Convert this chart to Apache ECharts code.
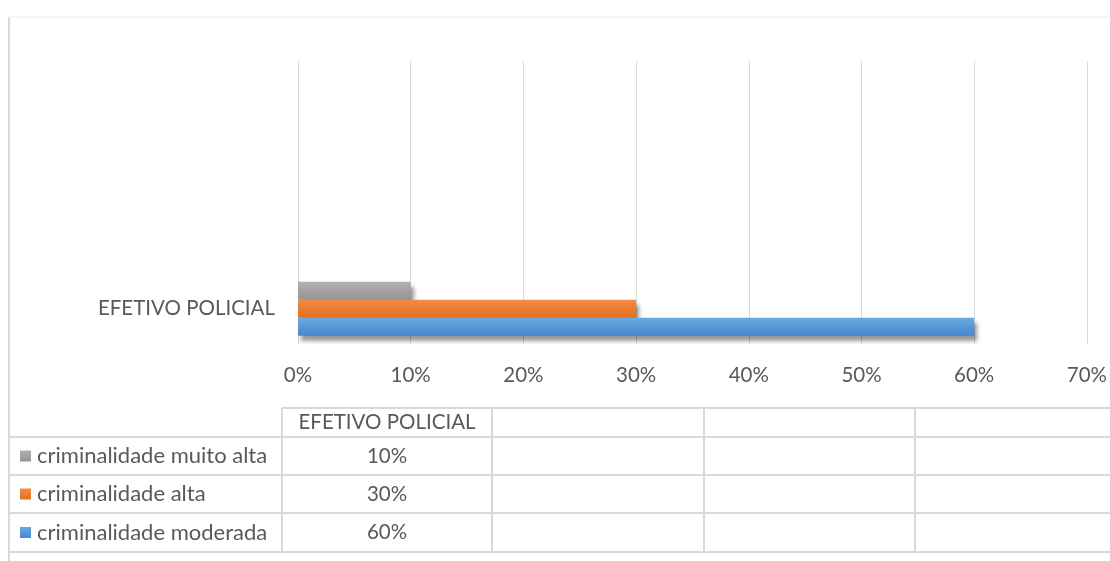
<!DOCTYPE html>
<html>
<head>
<meta charset="utf-8">
<script src="https://cdn.jsdelivr.net/npm/echarts@6/dist/echarts.min.js"></script>
<style>
  html, body { margin: 0; padding: 0; background: #fff; }
  #chart { width: 1110px; height: 561px; }
</style>
</head>
<body>
<div id="chart"></div>
<script>
// categorias (só a primeira tem nome, as outras ficam vazias)
const categories = ['EFETIVO POLICIAL', '', '', '']
// séries (ordem de cima para baixo nas barras)
const seriesNames = ['criminalidade muito alta', 'criminalidade alta', 'criminalidade moderada']
const muitoAlta = [0.1, null, null, null]
const alta = [0.3, null, null, null]
const moderada = [0.6, null, null, null]
// ticks do eixo
const axisTicks = [0, 0.1, 0.2, 0.3, 0.4, 0.5, 0.6, 0.7]

const seriesData = [muitoAlta, alta, moderada]
const colors = [
  ['#b1b1b1', '#959595'],
  ['#f38c47', '#e2701f'],
  ['#6ca9e0', '#4687cf']
]

const FONT = 'Lato'
const TXT = '#595959'
const LINE = '#d9d9d9'
const FS = 20.5

const pct = (v) => (v == null ? '' : Math.round(v * 100) + '%')

// tabela de dados embaixo do gráfico
const colX = [9, 282, 492, 704, 915, 1110]
const rowY = [408, 437, 475, 513, 552]
const graphic = []

// moldura
graphic.push({ type: 'line', shape: { x1: 9, y1: 17, x2: 1110, y2: 17 }, style: { stroke: '#ececec', lineWidth: 1 } })
graphic.push({ type: 'line', shape: { x1: 9, y1: 17, x2: 9, y2: 561 }, style: { stroke: LINE, lineWidth: 2 } })

// linhas horizontais
graphic.push({ type: 'line', shape: { x1: colX[1], y1: rowY[0], x2: 1110, y2: rowY[0] }, style: { stroke: LINE, lineWidth: 2 } })
for (let i = 1; i < rowY.length; i++) {
  graphic.push({ type: 'line', shape: { x1: colX[0], y1: rowY[i], x2: 1110, y2: rowY[i] }, style: { stroke: LINE, lineWidth: 2 } })
}
// linhas verticais
for (let i = 1; i < colX.length - 1; i++) {
  graphic.push({ type: 'line', shape: { x1: colX[i], y1: rowY[0], x2: colX[i], y2: rowY[rowY.length - 1] }, style: { stroke: LINE, lineWidth: 2 } })
}
// cabeçalho
categories.forEach((c, j) => {
  graphic.push({
    type: 'text',
    x: (colX[j + 1] + colX[j + 2]) / 2,
    y: (rowY[0] + rowY[1]) / 2,
    style: { text: c, font: FS + 'px ' + FONT, fill: TXT, align: 'center', verticalAlign: 'middle' }
  })
})
// linhas das séries
seriesNames.forEach((name, s) => {
  const yc = (rowY[s + 1] + rowY[s + 2]) / 2
  graphic.push({
    type: 'rect',
    shape: { x: 20, y: yc - 5.5, width: 11, height: 11 },
    style: { fill: new echarts.graphic.LinearGradient(0, 0, 0, 1, [{ offset: 0, color: colors[s][0] }, { offset: 1, color: colors[s][1] }]) }
  })
  graphic.push({
    type: 'text', x: 37, y: yc,
    style: { text: name, font: '22px ' + FONT, fill: TXT, align: 'left', verticalAlign: 'middle' }
  })
  seriesData[s].forEach((v, j) => {
    graphic.push({
      type: 'text',
      x: (colX[j + 1] + colX[j + 2]) / 2,
      y: yc,
      style: { text: pct(v), font: FS + 'px ' + FONT, fill: TXT, align: 'center', verticalAlign: 'middle' }
    })
  })
})

const chart = echarts.init(document.getElementById('chart'))
chart.setOption({
  animation: false,
  textStyle: { fontFamily: FONT },
  grid: { left: 298, right: 22, top: 61, bottom: 217 },
  xAxis: {
    type: 'value',
    min: axisTicks[0],
    max: axisTicks[axisTicks.length - 1],
    interval: 0.1,
    axisLine: { show: false },
    axisTick: { show: false },
    splitLine: { show: true, lineStyle: { color: LINE, width: 1 } },
    axisLabel: { formatter: pct, color: TXT, fontSize: FS, fontFamily: FONT, margin: 21 }
  },
  yAxis: {
    type: 'category',
    data: categories,
    axisLine: { show: false },
    axisTick: { show: false },
    axisLabel: { color: TXT, fontSize: FS, fontFamily: FONT, margin: 23 }
  },
  series: seriesNames.map((name, i) => ({
    name: name,
    type: 'bar',
    data: seriesData[i],
    barWidth: 18,
    barGap: '0%',
    itemStyle: {
      color: new echarts.graphic.LinearGradient(0, 0, 0, 1, [
        { offset: 0, color: colors[i][0] },
        { offset: 1, color: colors[i][1] }
      ]),
      shadowColor: 'rgba(0,0,0,0.4)',
      shadowBlur: 4,
      shadowOffsetX: 3,
      shadowOffsetY: 5
    }
  })),
  graphic: graphic
})
</script>
</body>
</html>
